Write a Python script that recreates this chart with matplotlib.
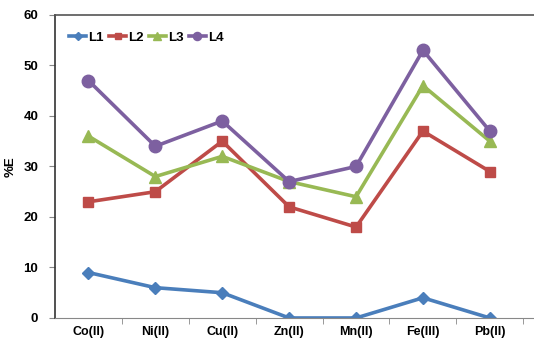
import numpy as np
import matplotlib.pyplot as plt

plt.rcParams['font.family'] = ['Liberation Sans', 'DejaVu Sans']

# data
ions = ['Co(II)', 'Ni(II)', 'Cu(II)', 'Zn(II)', 'Mn(II)', 'Fe(III)', 'Pb(II)']
L1 = [9, 6, 5, 0, 0, 4, 0]
L2 = [23, 25, 35, 22, 18, 37, 29]
L3 = [36, 28, 32, 27, 24, 46, 35]
L4 = [47, 34, 39, 27, 30, 53, 37]

series = [
    ('L1', L1, '#4A7EBB', 'D', 6.5),
    ('L2', L2, '#BE4B48', 's', 7.5),
    ('L3', L3, '#98B954', '^', 9),
    ('L4', L4, '#7D60A0', 'o', 9),
]

fig = plt.figure(figsize=(5.34, 3.39), dpi=100)
ax = fig.add_axes([0.103, 0.062, 0.897, 0.894])

x = np.arange(len(ions))
for name, vals, col, mk, ms in series:
    ax.plot(x, vals, color=col, lw=2.6, marker=mk, markersize=ms,
            markeredgecolor=col, markerfacecolor=col, label=name)

ax.set_xlim(-0.5, 6.66)
ax.set_ylim(0, 60)
ax.set_yticks(range(0, 61, 10))
ax.set_xticks(x)
ax.set_xticklabels(ions, fontsize=9, fontweight='bold')
ax.set_xticks(np.arange(0.5, 7, 1), minor=True)
ax.tick_params(axis='x', which='major', length=0, pad=6)
ax.tick_params(axis='x', which='minor', length=4, color='#888888', direction='out')
ax.tick_params(axis='y', length=4, color='#888888', labelsize=9.5, pad=8)
for lbl in ax.get_yticklabels():
    lbl.set_fontweight('bold')

ax.spines['right'].set_visible(False)
ax.spines['left'].set_color('#333333')
ax.spines['top'].set_color('#555555')
ax.spines['bottom'].set_color('#888888')
ax.spines['left'].set_linewidth(1.2)
ax.spines['top'].set_linewidth(1.2)

ax.set_ylabel('%E', fontsize=9.5, fontweight='bold')
ax.yaxis.set_label_coords(-0.08, 0.5)

ax.legend(loc='upper left', ncol=4, frameon=False,
          prop={'weight': 'bold', 'size': 9.5}, handlelength=1.3,
          handletextpad=0.15, columnspacing=0.4, bbox_to_anchor=(0.01, 0.975),
          markerscale=0.65, borderpad=0.2)

plt.savefig('out.png', dpi=100)
